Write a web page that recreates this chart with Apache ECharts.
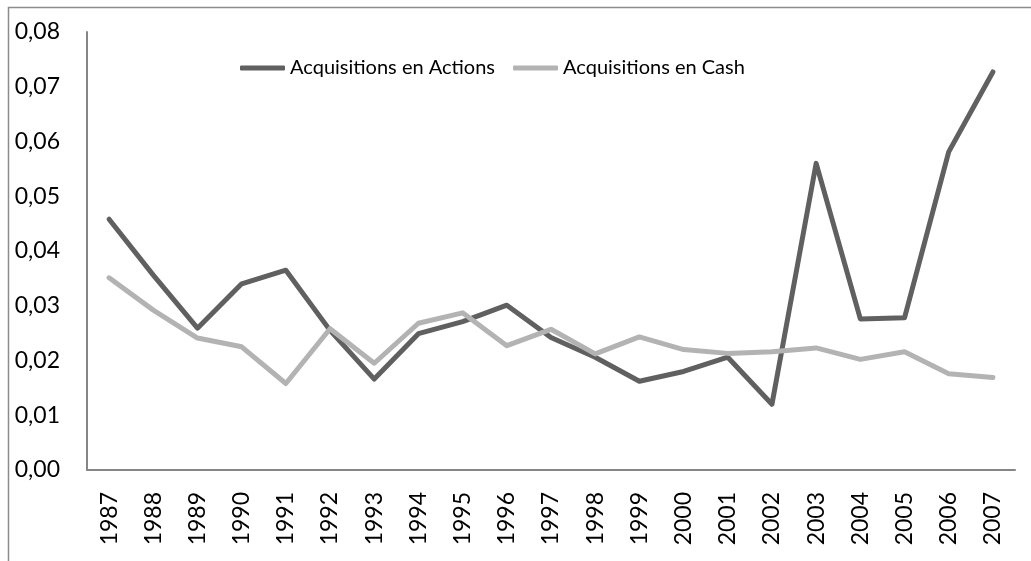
<!DOCTYPE html>
<html>
<head>
<meta charset="utf-8">
<script src="https://cdn.jsdelivr.net/npm/echarts@6/dist/echarts.min.js"></script>
<style>
  html, body { margin: 0; padding: 0; background: #fff; }
  #chart { width: 1031px; height: 561px; }
</style>
</head>
<body>
<div id="chart"></div>
<script>
// données
var years = ['1987','1988','1989','1990','1991','1992','1993','1994','1995','1996','1997',
             '1998','1999','2000','2001','2002','2003','2004','2005','2006','2007'];
var acqActions = [0.0458, 0.0356, 0.0259, 0.0340, 0.0365, 0.0255, 0.0166, 0.0249, 0.0271, 0.0301, 0.0242,
                  0.0206, 0.0162, 0.0180, 0.0206, 0.0120, 0.0560, 0.0276, 0.0278, 0.0581, 0.0727];
var acqCash = [0.0351, 0.0292, 0.0241, 0.0225, 0.0158, 0.0258, 0.0195, 0.0268, 0.0287, 0.0227, 0.0257,
               0.0212, 0.0243, 0.0220, 0.0213, 0.0216, 0.0223, 0.0202, 0.0216, 0.0176, 0.0169];

var font = 'Lato';
var axisColor = '#868686';

var chart = echarts.init(document.getElementById('chart'));

chart.setOption({
    animation: false,
    backgroundColor: '#fff',
    textStyle: { fontFamily: font },
    graphic: [{
        // cadre autour du graphique
        type: 'rect',
        left: 6, top: 5,
        shape: { width: 1100, height: 600 },
        style: { fill: 'none', stroke: '#8c8c8c', lineWidth: 1.5 },
        silent: true
    }],
    legend: {
        left: 235,
        top: 53,
        icon: 'roundRect',
        itemWidth: 45,
        itemHeight: 5,
        itemGap: 18,
        textStyle: { fontFamily: font, fontSize: 20, color: '#000' },
        data: ['Acquisitions en Actions', 'Acquisitions en Cash']
    },
    grid: { left: 87, right: 16, top: 32, bottom: 91 },
    xAxis: {
        type: 'category',
        data: years,
        boundaryGap: true,
        axisLine: { lineStyle: { color: axisColor, width: 2 } },
        axisTick: { show: false },
        axisLabel: {
            rotate: 90,
            interval: 0,
            margin: 22,
            fontFamily: font,
            fontSize: 23,
            color: '#000'
        }
    },
    yAxis: {
        type: 'value',
        min: 0,
        max: 0.08,
        interval: 0.01,
        splitLine: { show: false },
        axisLine: { show: true, lineStyle: { color: axisColor, width: 2 } },
        axisTick: { show: false },
        axisLabel: {
            margin: 27,
            fontFamily: font,
            fontSize: 23,
            color: '#000',
            formatter: function (v) { return v.toFixed(2).replace('.', ','); }
        }
    },
    series: [{
        name: 'Acquisitions en Actions',
        type: 'line',
        data: acqActions,
        symbol: 'none',
        itemStyle: { color: '#606060' },
        lineStyle: { color: '#606060', width: 5, cap: 'round', join: 'round' }
    }, {
        name: 'Acquisitions en Cash',
        type: 'line',
        data: acqCash,
        symbol: 'none',
        itemStyle: { color: '#b3b3b3' },
        lineStyle: { color: '#b3b3b3', width: 5, cap: 'round', join: 'round' }
    }]
});
</script>
</body>
</html>
